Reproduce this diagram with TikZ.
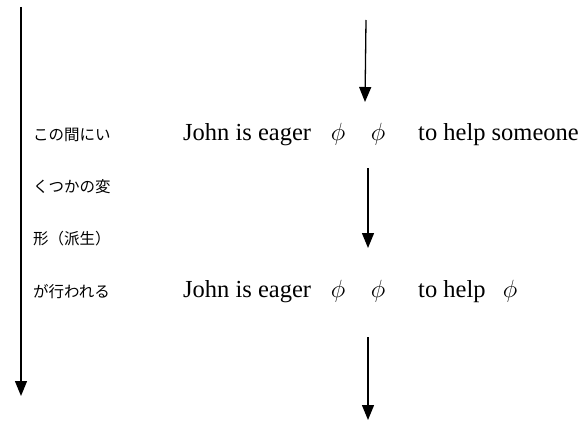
\documentclass[tikz,border=0pt]{standalone}
\usepackage{fontspec}
\setmainfont{Liberation Serif}
\newfontfamily\jpfont{Noto Sans CJK JP}
\usetikzlibrary{arrows.meta}

\begin{document}
\begin{tikzpicture}[x=1pt,y=1pt,
  flow/.style={line width=1.3pt, -{Triangle[length=15pt,width=12pt]}},
  words/.style={inner sep=0pt, anchor=base west, font=\fontsize{24.5}{28}\selectfont},
  gap/.style={inner sep=0pt, anchor=base, font=\fontsize{23}{26}\selectfont},
  note/.style={inner sep=0pt, anchor=base west, font=\jpfont\fontsize{15.5}{18}\selectfont}]
\useasboundingbox (0,0) rectangle (585,421);

% derivation stages
\node[words] (s1a) at (183,281) {John is eager};
\node[gap]   (s1b) at (338,281) {$\phi$};
\node[gap]   (s1c) at (378,281) {$\phi$};
\node[words] (s1d) at (418,281) {to help someone};

\node[words] (s2a) at (183,124) {John is eager};
\node[gap]   (s2b) at (338,124) {$\phi$};
\node[gap]   (s2c) at (378,124) {$\phi$};
\node[words] (s2d) at (418,124) {to help};
\node[gap]   (s2e) at (510,124) {$\phi$};

% side note
\node[note] (n1) at (33,281) {この間にい};
\node[note] (n2) at (33,228.7) {くつかの変};
\node[note] (n3) at (33,176.3) {形（派生）};
\node[note] (n4) at (33,124) {が行われる};

% arrow end points
\coordinate (t0) at (366,401);
\coordinate (t1) at (365,319);
\coordinate (m0) at (368,253);
\coordinate (m1) at (368,173);
\coordinate (b0) at (368,84);
\coordinate (b1) at (368,1);
\coordinate (l0) at (21,414);
\coordinate (l1) at (21,25);

\draw[flow] (t0) -- (t1);
\draw[flow] (m0) -- (m1);
\draw[flow] (b0) -- (b1);
\draw[flow] (l0) -- (l1);
\end{tikzpicture}
\end{document}
